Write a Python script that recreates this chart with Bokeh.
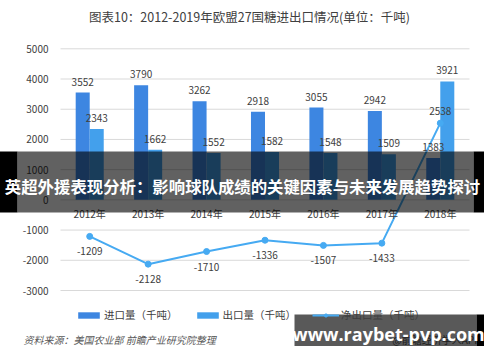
import numpy as np
from bokeh.plotting import figure
from bokeh.models import ColumnDataSource, Range1d, Legend, LegendItem
from bokeh.core.properties import value
from bokeh.embed import file_html
from bokeh.resources import INLINE

# ---- data ----
years = ["2012年", "2013年", "2014年", "2015年", "2016年", "2017年", "2018年"]
imports = [3552, 3790, 3262, 2918, 3055, 2942, 1383]
exports = [2343, 1662, 1552, 1582, 1548, 1509, 3921]
net = [-1209, -2128, -1710, -1336, -1507, -1433, 2538]
y_ticks = [5000, 4000, 3000, 2000, 1000, 0, -1000, -2000, -3000]
title = "图表10：2012-2019年欧盟27国糖进出口情况(单位：千吨)"
legend_labels = ["进口量（千吨）", "出口量（千吨）", "净出口量（千吨）"]
source_note = "资料来源：美国农业部 前瞻产业研究院整理"
credit = "@前瞻经济学人APP"
banner = "英超外援表现分析：影响球队成绩的关键因素与未来发展趋势探讨"
watermark = "www.raybet-pvp.com"

FONT = value("Noto Sans CJK SC")

# ---- geometry (pixels of the canvas) ----
W, H = 484, 346
PX_L, PX_R = 60.0, 469.0      # pixel x of category edge 0 and 7
PY_TOP, PY_BOT = 48.3, 290.0  # pixel y of 5000 and -3000
n = len(years)
XS = n / (PX_R - PX_L)
YS = 8000.0 / (PY_BOT - PY_TOP)


def X(px):
    return (px - PX_L) * XS


def Y(py):
    return 5000 - (py - PY_TOP) * YS


p = figure(width=W, height=H, x_range=Range1d(X(0), X(W)), y_range=Range1d(Y(H), Y(0)),
           output_backend="svg", toolbar_location=None, min_border=0,
           x_axis_type=None, y_axis_type=None, outline_line_color=None,
           background_fill_color="white", border_fill_color="white")
p.title.visible = False

cx = np.arange(n) + 0.5
bw = 0.24
src = ColumnDataSource(dict(
    cx=cx, xi=cx - bw / 2, xe=cx + bw / 2,
    imp=imports, exp=exports, net=net, years=years,
    imp_t=[str(v) for v in imports], exp_t=[str(v) for v in exports],
    net_t=[str(v) for v in net],
    net_off=[15 if v < 0 else -12 for v in net],
    zero=[0] * n,
))

# grid lines
p.segment(x0=0, x1=n, y0=y_ticks, y1=y_ticks, line_color="#d9d9d9", line_width=1)
# y tick labels
p.text(x=X(48), y=y_ticks, text=[str(v) for v in y_ticks], text_align="right",
       text_baseline="middle", text_font=FONT, text_font_size="10px", text_color="#404040")

# bars
r_imp = p.vbar(x="xi", width=bw, top="imp", bottom=0, source=src,
               fill_color="#3d86e1", line_color=None)
r_exp = p.vbar(x="xe", width=bw, top="exp", bottom=0, source=src,
               fill_color="#43a0ec", line_color=None)
# net line
r_line = p.line(x="cx", y="net", source=src, line_color="#46aaf2", line_width=2)
r_pts = p.scatter(x="cx", y="net", source=src, size=6, fill_color="#46aaf2", line_color="#46aaf2")

# value labels
lab = dict(text_font=FONT, text_font_size="10px", text_color="#404040",
           text_align="center", text_baseline="middle")
p.text(x="xi", y="imp", text="imp_t", y_offset=-11, source=src, **lab)
p.text(x="xe", y="exp", text="exp_t", y_offset=-11, source=src, **lab)
p.text(x="cx", y="net", text="net_t", y_offset="net_off", source=src, **lab)
# category labels
p.text(x="cx", y="zero", text="years", y_offset=14, source=src, **lab)

# title
p.text(x=[X(249)], y=[Y(15.5)], text=[title], text_align="center", text_baseline="middle",
       text_font=FONT, text_font_size="12.5px", text_color="#404040")

# legend
legend = Legend(items=[
    LegendItem(label=legend_labels[0], renderers=[r_imp]),
    LegendItem(label=legend_labels[1], renderers=[r_exp]),
    LegendItem(label=legend_labels[2], renderers=[r_line, r_pts]),
], orientation="horizontal", location=(75, 24), glyph_width=27, glyph_height=8,
    label_height=8, label_standoff=2, spacing=16, padding=0, margin=0,
    border_line_color=None, background_fill_alpha=0,
    label_text_font="Noto Sans CJK SC", label_text_font_size="10.5px",
    label_text_color="#404040")
p.add_layout(legend, "center")

# footer
p.text(x=[X(23)], y=[Y(339)], text=[source_note], text_align="left", text_baseline="middle",
       text_font=FONT, text_font_size="10px", text_font_style="italic", text_color="#595959")
p.text(x=[X(480)], y=[Y(338.5)], text=[credit], text_align="right", text_baseline="middle",
       text_font=FONT, text_font_size="10px", text_color="#595959")

# overlays (banner and watermark box)
p.quad(left=[X(17)], right=[X(473)], top=[Y(151)], bottom=[Y(212)], fill_color="#000000",
       fill_alpha=0.62, line_color=None, level="overlay")
p.quad(left=[X(-2), X(473)], right=[X(17), X(486)], top=[Y(151)] * 2, bottom=[Y(212)] * 2,
       fill_color="#000000", fill_alpha=1.0, line_color=None, level="overlay")
p.text(x=[X(242)], y=[Y(185)], text=[banner], text_align="center", text_baseline="middle",
       text_font=FONT, text_font_size="16.4px", text_font_style="bold", text_color="white",
       level="overlay")

p.quad(left=[X(294)], right=[X(476)], top=[Y(314)], bottom=[Y(347)], fill_color="#000000",
       fill_alpha=0.65, line_color=None, level="overlay")
p.quad(left=[X(476)], right=[X(486)], top=[Y(314)], bottom=[Y(347)], fill_color="#000000",
       fill_alpha=1.0, line_color=None, level="overlay")
p.text(x=[X(388)], y=[Y(333.5)], text=[watermark], text_align="center", text_baseline="middle",
       text_font=value("Open Sans"), text_font_size="18px", text_font_style="bold",
       text_color="white", level="overlay")

open("out.html", "w").write(file_html(p, INLINE))
